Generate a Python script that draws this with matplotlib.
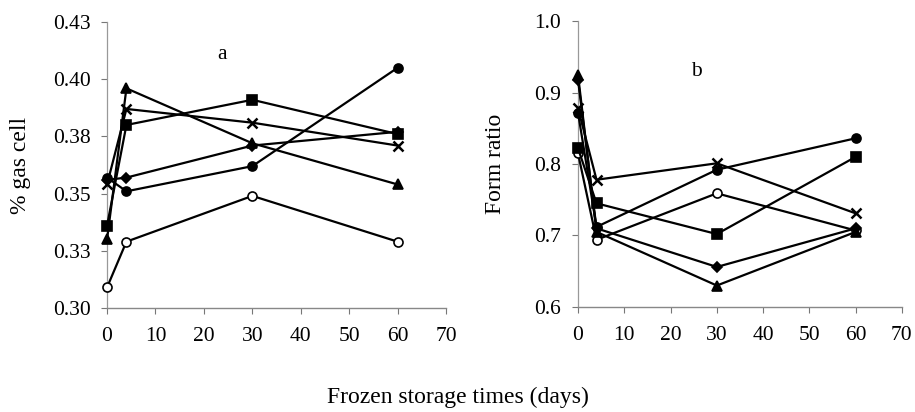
import matplotlib
matplotlib.use("Agg")
import matplotlib.pyplot as plt

plt.rcParams['font.family'] = ['Liberation Serif', 'DejaVu Serif']

days = [0, 4, 30, 60]

# Panel a: % gas cell
gas_filled_circle = [0.357, 0.351, 0.362, 0.405]
gas_open_circle = [0.309, 0.329, 0.349, 0.329]
gas_triangle = [0.330, 0.396, 0.372, 0.354]
gas_square = [0.336, 0.380, 0.391, 0.376]
gas_x = [0.354, 0.387, 0.381, 0.371]
gas_diamond = [0.356, 0.357, 0.371, 0.377]

# Panel b: Form ratio
form_filled_circle = [0.872, 0.712, 0.792, 0.836]
form_open_circle = [0.815, 0.694, 0.759, 0.707]
form_triangle = [0.925, 0.705, 0.630, 0.705]
form_square = [0.822, 0.745, 0.702, 0.810]
form_x = [0.878, 0.778, 0.801, 0.731]
form_diamond = [0.918, 0.710, 0.656, 0.710]

gas_ticks = [0.300, 0.325, 0.350, 0.375, 0.400, 0.425]
gas_ticklabels = ['0.30', '0.33', '0.35', '0.38', '0.40', '0.43']
form_ticks = [0.6, 0.7, 0.8, 0.9, 1.0]
form_ticklabels = ['0.6', '0.7', '0.8', '0.9', '1.0']
x_ticks = [0, 10, 20, 30, 40, 50, 60, 70]

fig = plt.figure(figsize=(9.15, 4.12), dpi=100)
ax1 = fig.add_axes([0.117, 0.2524, 0.3705, 0.6942])
ax2 = fig.add_axes([0.6317, 0.2549, 0.354, 0.694])

styles = [
    ('o', 'black'),
    ('o', 'white'),
    ('^', 'black'),
    ('s', 'black'),
    ('x', 'black'),
    ('D', 'black'),
]

def draw(ax, series):
    for (m, fc), ys in zip(styles, series):
        ms = 6.5 if m != 'D' else 5.5
        ax.plot(days, ys, color='black', lw=1.6, marker=m, ms=ms,
                markerfacecolor=fc, markeredgecolor='black', mew=1.2 if m != 'x' else 1.8,
                clip_on=False, zorder=3)

draw(ax1, [gas_filled_circle, gas_open_circle, gas_triangle, gas_square, gas_x, gas_diamond])
draw(ax2, [form_filled_circle, form_open_circle, form_triangle, form_square, form_x, form_diamond])

for ax in (ax1, ax2):
    ax.set_xlim(0, 70)
    ax.set_xticks(x_ticks)
    for s in ('top', 'right'):
        ax.spines[s].set_visible(False)
    ax.spines['left'].set_color('#999999')
    ax.spines['left'].set_linestyle((0, (1, 1)))
    ax.spines['left'].set_linewidth(0.9)
    ax.spines['bottom'].set_color('#888888')
    ax.spines['bottom'].set_linewidth(1.0)
    ax.tick_params(axis='both', direction='out', length=4, width=0.8, color='#777777',
                   labelsize=15.5)
    ax.tick_params(axis='x', pad=10)
    ax.tick_params(axis='y', pad=8)

ax1.set_ylim(0.30, 0.425)
ax1.set_yticks(gas_ticks)
ax1.set_yticklabels(gas_ticklabels)
ax1.set_ylabel('% gas cell', fontsize=17)
ax1.yaxis.set_label_coords(-0.224, 0.5)
ax1.text(23.7, 0.4106, 'a', fontsize=15.5, ha='center', va='center')

ax2.set_ylim(0.6, 1.0)
ax2.set_yticks(form_ticks)
ax2.set_yticklabels(form_ticklabels)
ax2.set_ylabel('Form ratio', fontsize=17)
ax2.yaxis.set_label_coords(-0.222, 0.5)
ax2.text(25.7, 0.93, 'b', fontsize=15.5, ha='center', va='center')

fig.text(0.5, 0.036, 'Frozen storage times (days)', fontsize=17, ha='center', va='center')

fig.savefig('out.png', dpi=100)
